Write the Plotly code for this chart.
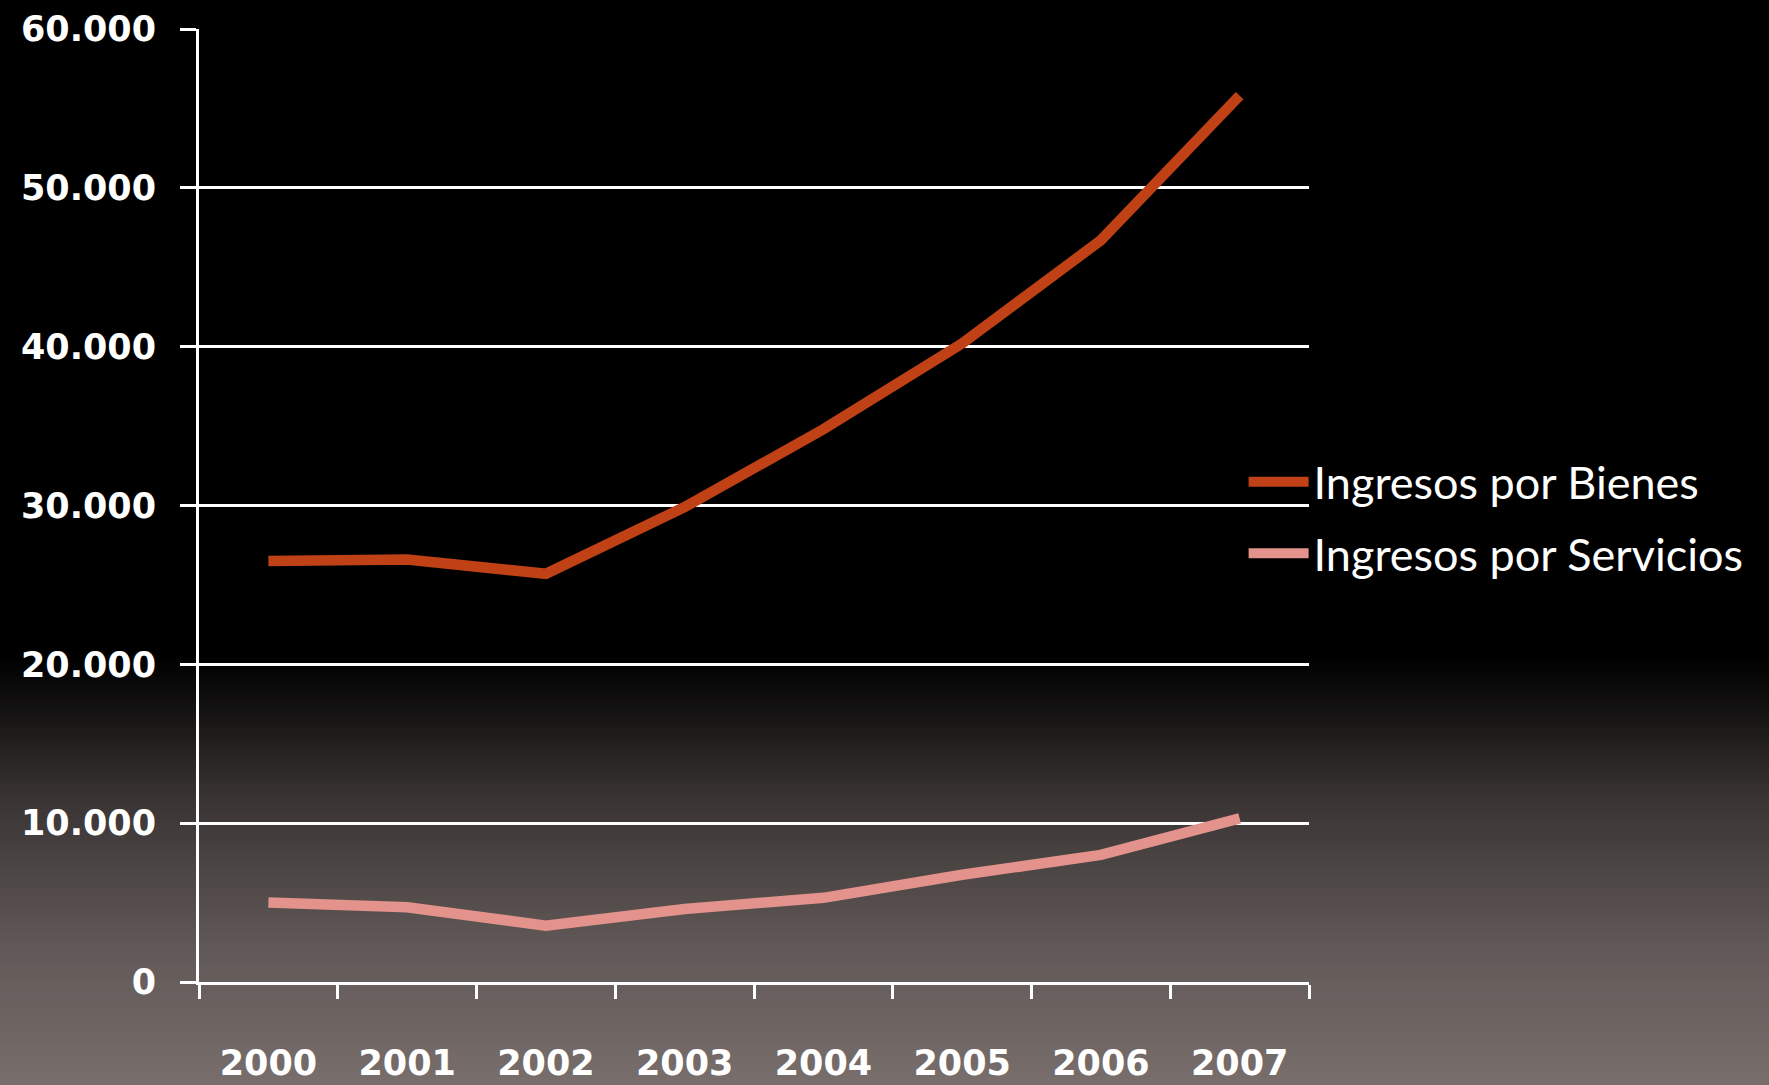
import plotly.graph_objects as go

years = ["2000", "2001", "2002", "2003", "2004", "2005", "2006", "2007"]
bienes = [26500, 26600, 25700, 29900, 34800, 40200, 46700, 55800]
servicios = [5000, 4700, 3550, 4600, 5300, 6750, 8000, 10300]
y_ticks = [0, 10000, 20000, 30000, 40000, 50000, 60000]

W, H = 1769, 1085
L, R, T, B = 199, 460, 29, 103
ph = H - T - B

fig = go.Figure()
fig.add_trace(go.Scatter(x=years, y=bienes, mode="lines", name="Ingresos por Bienes",
                         legendgroup="a", line=dict(color="#BF4115", width=10.5)))
fig.add_trace(go.Scatter(x=years, y=servicios, mode="lines", name="Ingresos por Servicios",
                         legendgroup="b", line=dict(color="#E3938B", width=10.5)))

# background gradient (decoration): pixel-row stops -> brightness
stops = [(655, 0.0), (700, 0.13), (800, 0.48), (875, 0.64), (950, 0.81), (1085, 1.0)]
c_end = (120, 110, 108)


def level(y):
    for (ya, va), (yb, vb) in zip(stops[:-1], stops[1:]):
        if ya <= y <= yb:
            return va + (vb - va) * (y - ya) / (yb - ya)
    return 0.0 if y < stops[0][0] else 1.0


shapes = [dict(type="rect", xref="paper", yref="paper", layer="below",
               x0=-0.5, x1=1.6, y0=(H - B - stops[0][0]) / ph, y1=1.2,
               fillcolor="black", line=dict(width=0))]
g0, g1 = stops[0][0], H
n = 100
for i in range(n):
    ya = g0 + (g1 - g0) * i / n
    yb = g0 + (g1 - g0) * (i + 1) / n + 1
    t = level((ya + yb) / 2)
    col = "rgb(%d,%d,%d)" % tuple(int(round(c * t)) for c in c_end)
    shapes.append(dict(type="rect", xref="paper", yref="paper", layer="below",
                       x0=-0.5, x1=1.6, y0=(H - B - yb) / ph, y1=(H - B - ya) / ph,
                       fillcolor=col, line=dict(width=0)))

tick_font = dict(family="DejaVu Sans", size=35, color="white", weight="bold")

fig.update_layout(
    width=W, height=H,
    margin=dict(l=L, r=R, t=T, b=B, autoexpand=False),
    paper_bgcolor="black",
    plot_bgcolor="rgba(0,0,0,0)",
    separators=",.",
    shapes=shapes,
    showlegend=True,
    legend=dict(xref="container", yref="container", x=0.703, y=0.523,
                xanchor="left", yanchor="middle",
                font=dict(family="Lato", size=45, color="white"),
                bgcolor="rgba(0,0,0,0)", traceorder="grouped", tracegroupgap=10,
                itemwidth=60),
    xaxis=dict(type="category", tickson="boundaries", showgrid=False,
               range=[-0.5, 7.5],
               showline=True, linecolor="white", linewidth=3,
               ticks="outside", ticklen=14, tickwidth=3, tickcolor="white",
               tickfont=tick_font, ticklabelstandoff=48, zeroline=False),
    yaxis=dict(range=[0, 60000], tickvals=y_ticks, tickformat=",d",
               showgrid=True, gridcolor="white", gridwidth=2.5,
               showline=True, linecolor="white", linewidth=3,
               ticks="outside", ticklen=16, tickwidth=2.5, tickcolor="white",
               tickfont=tick_font, ticklabelstandoff=17, zeroline=False),
)

fig.write_html("out.html")
